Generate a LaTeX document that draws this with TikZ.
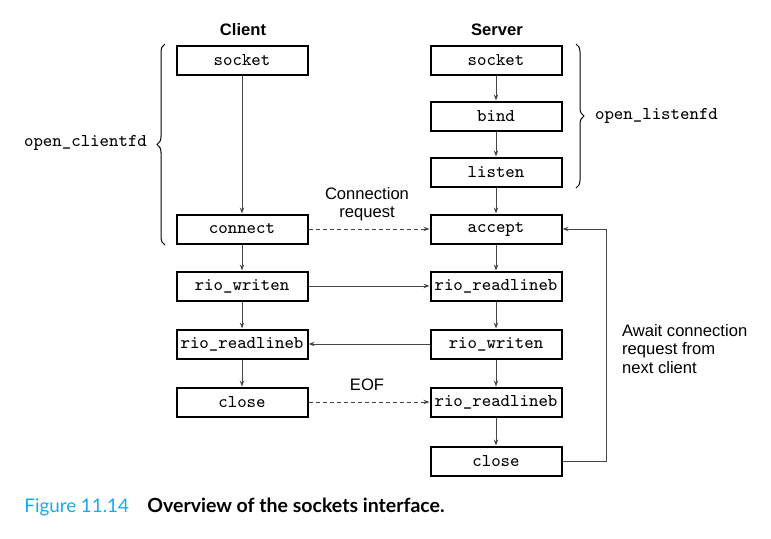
\documentclass[tikz,border=0pt]{standalone}
\usepackage{fontspec}
\setsansfont{Liberation Sans}
\newfontfamily\capfont{Lato}
\usetikzlibrary{arrows.meta,decorations.pathreplacing,positioning}
\definecolor{figblue}{RGB}{20,172,232}
\definecolor{linegray}{RGB}{70,70,70}
\tikzset{
  fn/.style={draw,line width=1pt,minimum width=65.5pt,minimum height=14.5pt,inner sep=0pt,font=\ttfamily\fontsize{9}{10}\selectfont},
  head/.style={font=\sffamily\bfseries\fontsize{8.3}{10}\selectfont},
  lbl/.style={font=\sffamily\fontsize{8.3}{9.2}\selectfont},
  flow/.style={draw=linegray,line width=0.5pt,-{Stealth[length=3pt,width=2.2pt]}},
  msg/.style={flow,dash pattern=on 2pt off 1.5pt},
  curly/.style={decorate,decoration={brace,amplitude=4pt},line width=0.5pt}
}
\begin{document}
\begin{tikzpicture}[x=0.5pt,y=-0.5pt]
        \useasboundingbox (0,0) rectangle (771,538);
        % client
        \node[head] (client) at (243,30) {Client};
        \node[fn] (csocket) at (242,60) {socket};
        \node[fn] (connect) at (242,229) {connect};
        \node[fn] (cwrite) at (242,286) {rio\_writen};
        \node[fn] (cread) at (242,344) {rio\_readlineb};
        \node[fn] (cclose) at (242,402) {close};
        % server
        \node[head] (server) at (497,30) {Server};
        \node[fn] (ssocket) at (496,60) {socket};
        \node[fn] (bind) at (496,116) {bind};
        \node[fn] (listen) at (496,172) {listen};
        \node[fn] (accept) at (496,229) {accept};
        \node[fn] (sread) at (496,286) {rio\_readlineb};
        \node[fn] (swrite) at (496,344) {rio\_writen};
        \node[fn] (sread2) at (496,402) {rio\_readlineb};
        \node[fn] (sclose) at (496,461) {close};
        \draw[flow] (csocket) -- (connect);
        \draw[flow] (connect) -- (cwrite);
        \draw[flow] (cwrite) -- (cread);
        \draw[flow] (cread) -- (cclose);
        \draw[flow] (ssocket) -- (bind);
        \draw[flow] (bind) -- (listen);
        \draw[flow] (listen) -- (accept);
        \draw[flow] (accept) -- (sread);
        \draw[flow] (sread) -- (swrite);
        \draw[flow] (swrite) -- (sread2);
        \draw[flow] (sread2) -- (sclose);
        % messages
        \draw[msg] (connect) -- (accept);
        \draw[flow] (cwrite) -- (sread);
        \draw[flow] (swrite) -- (cread);
        \draw[msg] (cclose) -- (sread2);
        \draw[flow] (sclose.east) -- ++(44,0) |- (accept.east);
        \node[lbl,align=center] (req) at (367,204) {Connection\\request};
        \node[lbl] (eof) at (367,385) {EOF};
        \node[lbl,align=left,anchor=west] (await) at (615,349) {Await connection\\request from\\next client};
        % braces
        \draw[curly] (165,245) -- (165,44);
        \node[anchor=east,font=\ttfamily\fontsize{9}{10}\selectfont] (clientfd) at (154,143) {open\_clientfd};
        \draw[curly] (576,44) -- (576,188);
        \node[anchor=west,font=\ttfamily\fontsize{9}{10}\selectfont] (listenfd) at (588,116) {open\_listenfd};
        % caption
        \node[anchor=base west,inner sep=0pt,text=figblue,font=\capfont\fontsize{9.4}{12}\selectfont] (fignum) at (24,512) {Figure 11.14};
        \node[anchor=base west,inner sep=0pt,font=\capfont\bfseries\fontsize{9.75}{12}\selectfont] (figtitle) at (147,512) {Overview of the sockets interface.};
    \end{tikzpicture}
\end{document}
